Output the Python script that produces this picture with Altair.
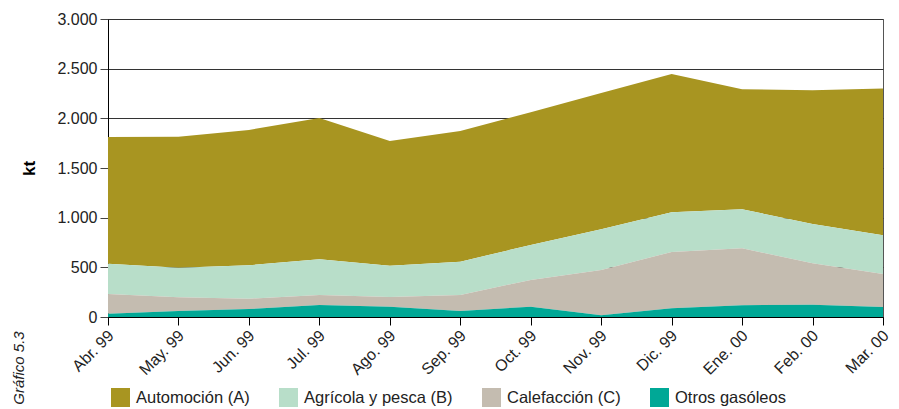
import altair as alt
import pandas as pd

meses = ["Abr. 99", "May. 99", "Jun. 99", "Jul. 99", "Ago. 99", "Sep. 99",
         "Oct. 99", "Nov. 99", "Dic. 99", "Ene. 00", "Feb. 00", "Mar. 00"]
automocion = [1276, 1318, 1362, 1422, 1255, 1316, 1337, 1372, 1392, 1209, 1346, 1477]
agricola = [305, 299, 337, 360, 316, 335, 352, 410, 399, 392, 396, 390]
calefaccion = [199, 138, 104, 101, 97, 162, 269, 455, 568, 574, 417, 332]
otros = [33, 60, 80, 121, 104, 60, 104, 18, 87, 118, 124, 101]
series = ["Automoción (A)", "Agrícola y pesca (B)", "Calefacción (C)", "Otros gasóleos"]
colores = ["#A89521", "#B8DEC9", "#C4BCB0", "#00A896"]
orden_apilado = [4, 3, 2, 1]
ticks_y = [0, 500, 1000, 1500, 2000, 2500, 3000]

rows = []
for nombre, vals, orden in zip(series, [automocion, agricola, calefaccion, otros], orden_apilado):
    for m, v in zip(meses, vals):
        rows.append({"mes": m, "serie": nombre, "kt": v, "orden": orden})
df = pd.DataFrame(rows)

FONT = "Liberation Sans, Arial, sans-serif"

areas = alt.Chart(df).mark_area(interpolate="linear", opacity=1).encode(
    x=alt.X("mes:N", sort=meses, scale=alt.Scale(type="point", padding=0),
            axis=alt.Axis(title=None, labelAngle=-45, labelFontSize=16, labelFont=FONT,
                          labelColor="#222", tickSize=8, tickColor="#000", domainColor="#000",
                          labelPadding=2, labelOffset=-3, grid=False)),
    y=alt.Y("kt:Q", stack="zero", scale=alt.Scale(domain=[0, 3000], nice=False),
            axis=alt.Axis(values=ticks_y, title="kt", titleFontSize=17, titleFont=FONT,
                          titleFontWeight="bold", titleColor="#000", titlePadding=18,
                          labelExpr="replace(format(datum.value, ',d'), ',', '.')",
                          labelFontSize=16, labelFont=FONT, labelColor="#222",
                          tickSize=8, tickColor="#444", domainColor="#000", labelPadding=3,
                          grid=True, gridColor="#333", gridWidth=1)),
    color=alt.Color("serie:N", scale=alt.Scale(domain=series, range=colores),
                    legend=alt.Legend(title=None, orient="none", legendX=3, legendY=369,
                                      direction="horizontal", symbolType="square",
                                      symbolSize=361, symbolStrokeWidth=0, symbolOpacity=1,
                                      labelFontSize=16.5, labelFont=FONT, labelColor="#222",
                                      labelOffset=6, columnPadding=29, labelLimit=300)),
    order=alt.Order("orden:Q"),
)

nota = alt.Chart(pd.DataFrame({"t": ["Gráfico 5.3"]})).mark_text(
    angle=270, fontStyle="italic", fontSize=15, font=FONT, color="#222"
).encode(text="t:N", x=alt.value(-89), y=alt.value(349))

chart = alt.layer(areas, nota).properties(
    width=775, height=298,
    padding={"left": 100, "top": 11, "right": 8, "bottom": 92},
    autosize=alt.AutoSizeParams(type="none"),
).configure_view(stroke="#555", strokeWidth=1)

chart.save("out.html", embed_options={"renderer": "svg", "actions": False})
